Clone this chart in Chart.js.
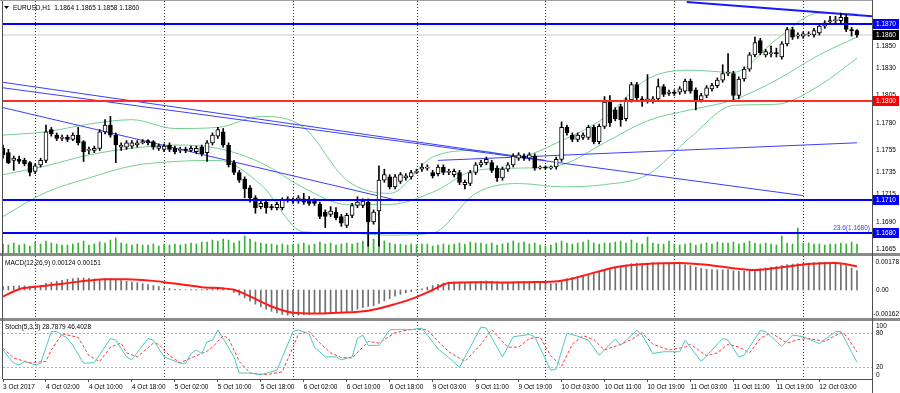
<!DOCTYPE html>
<html>
<head>
<meta charset="utf-8">
<script src="https://cdn.jsdelivr.net/npm/chart.js@4.4.1/dist/chart.umd.min.js"></script>
<style>
html, body { margin: 0; padding: 0; background: #fff; }
#wrap { position: relative; width: 900px; height: 393px; }
</style>
</head>
<body>
<div id="wrap"><canvas id="chart" width="900" height="393"></canvas></div>
<script>
// EURUSD H1 candles, 3 Oct 18:00 .. 12 Oct 09:00 (160 bars)
const opens = [
  1.1757,1.1753,1.1746,1.1747,1.1746,1.1744,1.1736,1.1742,1.1746,1.1774,
  1.1769,1.1766,1.1767,1.1765,1.1769,1.1763,1.1755,1.1755,1.1757,1.1772,
  1.1778,1.1769,1.1758,1.1758,1.1759,1.1760,1.1762,1.1764,1.1763,1.1757,
  1.1756,1.1760,1.1757,1.1755,1.1756,1.1755,1.1754,1.1758,1.1753,1.1762,
  1.1768,1.1772,1.1760,1.1744,1.1735,1.1729,1.1721,1.1712,1.1704,1.1708,
  1.1704,1.1703,1.1703,1.1710,1.1710,1.1709,1.1711,1.1710,1.1709,1.1706,
  1.1699,1.1697,1.1699,1.1695,1.1687,1.1696,1.1705,1.1705,1.1708,1.1690,
  1.1700,1.1728,1.1731,1.1722,1.1727,1.1730,1.1731,1.1735,1.1738,1.1739,
  1.1735,1.1734,1.1740,1.1735,1.1733,1.1735,1.1724,1.1725,1.1735,1.1742,
  1.1744,1.1744,1.1739,1.1730,1.1738,1.1742,1.1748,1.1750,1.1748,1.1750,
  1.1739,1.1740,1.1739,1.1740,1.1747,1.1776,1.1769,1.1765,1.1767,1.1767,
  1.1776,1.1763,1.1777,1.1800,1.1792,1.1795,1.1784,1.1801,1.1815,1.1802,
  1.1800,1.1800,1.1802,1.1813,1.1807,1.1808,1.1808,1.1809,1.1818,1.1810,
  1.1801,1.1805,1.1811,1.1814,1.1819,1.1825,1.1825,1.1805,1.1820,1.1829,
  1.1842,1.1855,1.1842,1.1843,1.1844,1.1840,1.1852,1.1865,1.1859,1.1859,
  1.1860,1.1860,1.1862,1.1868,1.1872,1.1873,1.1873,1.1876,1.1865,1.1864
];
const highs = [
  1.1760,1.1756,1.1750,1.1750,1.1748,1.1745,1.1743,1.1748,1.1778,1.1776,
  1.1771,1.1769,1.1769,1.1771,1.1776,1.1764,1.1758,1.1759,1.1774,1.1783,
  1.1786,1.1771,1.1762,1.1764,1.1764,1.1764,1.1765,1.1765,1.1764,1.1761,
  1.1761,1.1762,1.1759,1.1758,1.1758,1.1759,1.1759,1.1760,1.1764,1.1771,
  1.1776,1.1775,1.1762,1.1746,1.1737,1.1731,1.1723,1.1714,1.1709,1.1710,
  1.1706,1.1708,1.1712,1.1713,1.1712,1.1714,1.1716,1.1713,1.1711,1.1708,
  1.1701,1.1704,1.1703,1.1697,1.1698,1.1707,1.1713,1.1711,1.1711,1.1701,
  1.1741,1.1738,1.1733,1.1733,1.1735,1.1734,1.1737,1.1738,1.1743,1.1742,
  1.1737,1.1742,1.1742,1.1738,1.1738,1.1737,1.1728,1.1737,1.1744,1.1746,
  1.1749,1.1746,1.1741,1.1740,1.1744,1.1752,1.1753,1.1752,1.1753,1.1752,
  1.1741,1.1741,1.1741,1.1749,1.1781,1.1778,1.1771,1.1771,1.1771,1.1778,
  1.1778,1.1779,1.1804,1.1805,1.1794,1.1797,1.1803,1.1817,1.1817,1.1804,
  1.1824,1.1804,1.1820,1.1815,1.1810,1.1810,1.1813,1.1820,1.1820,1.1812,
  1.1807,1.1814,1.1816,1.1821,1.1833,1.1843,1.1827,1.1822,1.1831,1.1844,
  1.1858,1.1857,1.1847,1.1850,1.1848,1.1854,1.1867,1.1867,1.1862,1.1863,
  1.1863,1.1866,1.1870,1.1873,1.1877,1.1877,1.1880,1.1879,1.1867,1.1865
];
const lows = [
  1.1748,1.1743,1.1737,1.1743,1.1741,1.1732,1.1734,1.1740,1.1744,1.1768,
  1.1764,1.1764,1.1763,1.1764,1.1760,1.1745,1.1752,1.1753,1.1755,1.1770,
  1.1767,1.1744,1.1755,1.1756,1.1757,1.1758,1.1761,1.1760,1.1756,1.1755,
  1.1754,1.1754,1.1752,1.1753,1.1753,1.1754,1.1752,1.1750,1.1745,1.1760,
  1.1766,1.1758,1.1740,1.1733,1.1726,1.1712,1.1708,1.1698,1.1702,1.1698,
  1.1701,1.1701,1.1701,1.1708,1.1707,1.1707,1.1706,1.1705,1.1705,1.1693,
  1.1685,1.1695,1.1692,1.1686,1.1685,1.1694,1.1703,1.1703,1.1668,1.1688,
  1.1668,1.1726,1.1720,1.1720,1.1725,1.1728,1.1729,1.1734,1.1736,1.1737,
  1.1730,1.1732,1.1733,1.1733,1.1731,1.1724,1.1720,1.1723,1.1733,1.1740,
  1.1742,1.1735,1.1727,1.1728,1.1736,1.1740,1.1746,1.1746,1.1746,1.1737,
  1.1738,1.1738,1.1738,1.1738,1.1745,1.1769,1.1763,1.1763,1.1765,1.1765,
  1.1761,1.1761,1.1775,1.1777,1.1782,1.1777,1.1782,1.1799,1.1801,1.1795,
  1.1798,1.1798,1.1800,1.1804,1.1805,1.1805,1.1806,1.1807,1.1807,1.1792,
  1.1799,1.1803,1.1809,1.1812,1.1817,1.1823,1.1800,1.1802,1.1818,1.1827,
  1.1840,1.1842,1.1840,1.1840,1.1840,1.1838,1.1850,1.1856,1.1857,1.1857,
  1.1859,1.1858,1.1860,1.1866,1.1870,1.1871,1.1871,1.1863,1.1859,1.1858
];
const closes = [
  1.1751,1.1744,1.1748,1.1745,1.1743,1.1735,1.1741,1.1746,1.1772,1.1770,
  1.1766,1.1767,1.1765,1.1769,1.1762,1.1754,1.1756,1.1757,1.1772,1.1778,
  1.1769,1.1760,1.1760,1.1762,1.1762,1.1762,1.1763,1.1762,1.1758,1.1759,
  1.1759,1.1756,1.1754,1.1756,1.1755,1.1757,1.1757,1.1752,1.1762,1.1769,
  1.1774,1.1760,1.1742,1.1735,1.1728,1.1720,1.1712,1.1703,1.1707,1.1703,
  1.1703,1.1706,1.1710,1.1711,1.1709,1.1712,1.1708,1.1707,1.1707,1.1695,
  1.1695,1.1700,1.1694,1.1689,1.1696,1.1705,1.1708,1.1709,1.1690,1.1699,
  1.1728,1.1733,1.1722,1.1731,1.1733,1.1732,1.1735,1.1736,1.1740,1.1740,
  1.1732,1.1740,1.1735,1.1736,1.1736,1.1726,1.1726,1.1735,1.1742,1.1744,
  1.1747,1.1737,1.1730,1.1738,1.1742,1.1750,1.1751,1.1748,1.1751,1.1739,
  1.1740,1.1739,1.1740,1.1747,1.1776,1.1771,1.1765,1.1769,1.1769,1.1776,
  1.1763,1.1777,1.1799,1.1780,1.1784,1.1783,1.1801,1.1815,1.1803,1.1800,
  1.1802,1.1802,1.1813,1.1806,1.1808,1.1807,1.1811,1.1818,1.1809,1.1800,
  1.1805,1.1812,1.1814,1.1819,1.1825,1.1826,1.1805,1.1820,1.1829,1.1842,
  1.1853,1.1844,1.1845,1.1844,1.1843,1.1852,1.1865,1.1858,1.1860,1.1861,
  1.1861,1.1864,1.1868,1.1871,1.1873,1.1874,1.1876,1.1865,1.1864,1.1860
];
// tick volume
const volumes = [
  900,800,1000,800,900,700,1100,900,1200,1000,
  900,800,800,900,1000,1200,800,900,1100,1000,
  1300,1500,1000,900,800,900,800,800,900,700,
  900,800,900,800,900,1000,900,1100,1100,1300,
  1200,1400,1300,1000,1200,1700,1400,1100,1000,900,
  900,800,900,800,900,900,1000,800,900,1100,
  900,1000,800,900,1000,900,1000,1200,2200,1400,
  2400,1200,1000,900,900,800,900,800,900,900,
  700,800,900,800,900,1000,900,1100,1000,1000,
  900,1000,800,900,1000,1200,1000,1100,900,1000,
  800,700,800,1000,1200,1000,900,1000,1100,1300,
  1000,900,1000,1000,1100,1200,1000,1300,1000,900,
  1600,1000,900,900,1200,900,800,900,1000,800,
  900,1000,900,1100,1000,1000,1100,900,1000,1200,
  1000,900,1000,900,800,1700,1000,900,2500,1000,
  1000,900,900,800,900,900,1000,900,1100,900
];

// Bollinger Bands, sampled every 8 bars
const bandBars   = [0,8,16,24,32,40,48,56,64,72,80,88,96,104,112,120,128,136,144,152,159];
const bandUpper  = [1.1769,1.1772,1.1779,1.1783,1.1775,1.1776,1.1786,1.1776,1.1728,1.1716,1.1749,1.1755,1.1750,1.1764,1.1785,1.1820,1.1828,1.1826,1.1856,1.1880,1.1879];
const bandMiddle = [1.1733,1.1741,1.1751,1.1757,1.1760,1.1757,1.1744,1.1721,1.1706,1.1706,1.1717,1.1737,1.1739,1.1742,1.1762,1.1782,1.1792,1.1801,1.1819,1.1842,1.1858];
const bandLower  = [1.1695,1.1717,1.1730,1.1741,1.1745,1.1746,1.1724,1.1681,1.1680,1.1678,1.1680,1.1716,1.1725,1.1722,1.1724,1.1733,1.1767,1.1796,1.1797,1.1814,1.1839];

// trend lines: [bar, price] end points
const trendLines = [
  [[0, 1.1817], [101, 1.1746]],
  [[0, 1.1812], [149, 1.1714]],
  [[0, 1.1794], [74, 1.1709]],
  [[81, 1.1746], [159, 1.1762]],
  [[127.3, 1.1890], [161.8, 1.1877]]
];
const levelPrices = [1.1870, 1.1800, 1.1710, 1.1680];
const levelColors = ['#0000ff', '#ff2b2b', '#0000ff', '#0000ff'];
const priceTicks = [1.1850, 1.1830, 1.1805, 1.1780, 1.1755, 1.1735, 1.1715, 1.1690, 1.1665];

// MACD(12,26,9)
const macdHist = [
  0.00022,0.00024,0.00025,0.00026,0.00026,0.00024,0.00022,
  0.00030,0.00042,0.00050,0.00056,0.00062,0.00068,0.00072,0.00076,
  0.00076,0.00074,0.00070,0.00068,0.00072,0.00074,
  0.00066,0.00060,0.00055,0.00050,0.00046,0.00040,0.00034,0.00028,0.00022,
  0.00014,0.00009,0.00005,0.00003,0.00001,0.00002,0.00003,0.00002,0.00004,0.00010,0.00016,0.00014,0.00005,
  -0.00015,-0.00032,-0.00050,-0.00070,-0.00090,-0.00108,-0.00122,-0.00135,-0.00146,-0.00155,-0.00160,
  -0.00162,-0.00160,-0.00158,-0.00155,-0.00150,-0.00150,-0.00152,
  -0.00150,-0.00148,-0.00145,-0.00140,-0.00132,-0.00122,-0.00112,-0.00105,-0.00100,
  -0.00085,-0.00070,-0.00055,-0.00040,-0.00028,-0.00018,-0.00010,
  -0.00002,0.00008,0.00018,0.00028,0.00036,0.00044,0.00050,
  0.00052,0.00050,0.00046,0.00048,0.00052,0.00055,0.00058,0.00056,0.00050,0.00048,
  0.00048,0.00050,0.00052,0.00054,0.00055,0.00050,0.00045,0.00042,0.00040,0.00042,
  0.00060,0.00072,0.00080,0.00086,0.00092,0.00100,0.00104,0.00112,0.00125,0.00135,
  0.00142,0.00150,0.00160,0.00168,0.00170,0.00170,0.00170,
  0.00172,0.00174,0.00172,0.00170,0.00168,
  0.00165,0.00160,0.00155,0.00145,0.00138,0.00132,0.00130,0.00128,0.00128,0.00130,0.00122,0.00120,
  0.00120,0.00122,0.00128,0.00135,0.00140,0.00145,
  0.00150,0.00156,0.00162,0.00165,0.00168,0.00170,0.00172,0.00174,0.00176,0.00176,0.00175,0.00172,
  0.00165,0.00155,0.00140,0.00124
];
const macdSignalBars = [0,3,6,11,16,19,23,28,31,34,37,41,43,46,50,54,58,62,68,73,77,80,83,88,93,98,102,105,108,114,121,126,131,136,140,145,150,155,159];
const macdSignal = [-0.00042,0.00005,0.00020,0.00040,0.00060,0.00068,0.00068,0.00058,0.00045,0.00032,0.00018,0.00010,0.00002,-0.00040,-0.00105,-0.00145,-0.00150,-0.00145,-0.00132,-0.00090,-0.00045,0.00000,0.00045,0.00050,0.00048,0.00050,0.00052,0.00065,0.00090,0.00145,0.00168,0.00172,0.00160,0.00138,0.00127,0.00145,0.00165,0.00172,0.00151];
const macdTicks = [0.00178, 0, -0.00162];

// Stochastic(5,3,3)
const stochMainBars = [0,2,3,4,6,7,9,10,12,13,15,17,20,21,23,24,27,28,30,33,34,35,36,37,38,39,40,41,43,44,46,48,51,54,55,57,58,60,62,63,65,66,67,68,70,72,74,76,78,81,83,85,89,90,93,95,98,99,102,103,105,107,109,111,114,115,118,119,121,123,126,127,130,132,134,135,137,138,141,142,145,147,149,152,155,156,159];
const stochMain = [50,27,24,30,24,27,82,82,70,58,27,28,70,67,38,33,70,67,38,27,27,44,50,44,64,67,85,70,38,10,10,7,15,82,85,78,55,38,38,33,38,70,76,58,58,85,86,85,88,52,37,20,90,88,38,73,77,73,15,17,79,74,67,41,69,58,84,76,44,47,47,67,30,50,70,67,38,41,84,82,56,76,73,61,82,82,28.7879];
const stochSignalBars = [0,2,5,8,9,11,14,16,18,20,22,23,25,28,29,31,33,36,38,39,41,42,44,46,49,52,54,55,57,59,61,63,65,67,68,70,73,76,79,81,83,86,89,91,94,96,98,100,102,104,106,108,110,112,115,117,119,121,124,127,128,131,133,135,137,139,141,143,146,148,150,153,156,157,159];
const stochSignal = [53,36,28,30,50,78,72,40,30,55,62,45,38,62,60,40,28,40,48,55,75,70,30,10,7,12,55,78,82,62,45,37,36,55,65,62,80,86,85,65,47,30,60,85,55,55,70,72,40,22,60,75,68,50,60,68,80,60,50,55,60,40,45,60,55,45,70,80,62,68,70,65,80,75,46.4028];
const stochTicks = [100, 80, 20, 0];
const stochLevels = [80, 20];

// time axis
const timeLabelBars = [0,8,16,24,32,40,48,56,64,72,80,88,96,104,112,120,128,136,144,152];
const timeLabels = ['3 Oct 2017','4 Oct 02:00','4 Oct 10:00','4 Oct 18:00','5 Oct 02:00','5 Oct 10:00','5 Oct 18:00','6 Oct 02:00','6 Oct 10:00','6 Oct 18:00','9 Oct 03:00','9 Oct 11:00','9 Oct 19:00','10 Oct 03:00','10 Oct 11:00','10 Oct 19:00','11 Oct 03:00','11 Oct 11:00','11 Oct 19:00','12 Oct 03:00'];
const dayStartBars = [6, 30, 54, 77, 101, 125, 149];

// ---- layout (pixels) ----
const FONT = '"Liberation Sans", Arial, sans-serif';
const PLOT_T = 1, PLOT_B = 379, PLOT_L = 3, PLOT_R = 872;
const MAIN_B = 253, MACD_T = 256, MACD_B = 318, STO_T = 321;
const BAR_MAX = 161.8;

// map an anchor value at a pixel row + pixels per unit into a full-height axis range
function axisRange(val, py, pxPerUnit) {
  return { min: val - (PLOT_B - py) / pxPerUnit, max: val + (py - PLOT_T) / pxPerUnit };
}
const priceRange = axisRange(1.1870, 24, 11000);
const volRange = axisRange(0, MAIN_B, 0.01);
const macdRange = axisRange(0, 290, 15730);
const stochRange = axisRange(0, 378.8, 0.576);

const n = closes.length;
const idx = closes.map((_, i) => i);
const pts = (xs, ys) => xs.map((x, i) => ({ x: x, y: ys[i] }));

function lineDs(data, axis, color, width, order, extra) {
  return Object.assign({ type: 'line', data: data, yAxisID: axis, borderColor: color, borderWidth: width,
    pointRadius: 0, fill: false, tension: 0, order: order }, extra || {});
}

const datasets = [];
// volume
datasets.push({ type: 'bar', yAxisID: 'yVol', data: idx.map(i => ({ x: i, y: [0, volumes[i]] })),
  backgroundColor: '#34b334', barThickness: 1, grouped: false, order: 20 });
// macd histogram
datasets.push({ type: 'bar', yAxisID: 'yMacd', data: idx.map(i => ({ x: i, y: [0, macdHist[i]] })),
  backgroundColor: '#707070', barThickness: 1, grouped: false, order: 19 });
// bid line
datasets.push(lineDs([{ x: 0, y: closes[n - 1] }, { x: BAR_MAX, y: closes[n - 1] }], 'yPrice', '#c8c8c8', 1, 18));
// bollinger
[bandUpper, bandMiddle, bandLower].forEach(b => {
  datasets.push(lineDs(pts(bandBars, b), 'yPrice', '#74cf93', 1, 17, { tension: 0.4, cubicInterpolationMode: 'monotone' }));
});
// trend lines
trendLines.forEach((t, k) => {
  datasets.push(lineDs(t.map(p => ({ x: p[0], y: p[1] })), 'yPrice', k === 4 ? '#1a1aff' : '#3c3cff', k === 4 ? 2 : 1, 16));
});
// candle wicks & bodies
datasets.push({ type: 'bar', yAxisID: 'yPrice', data: idx.map(i => ({ x: i, y: [lows[i], highs[i]] })),
  backgroundColor: '#000', barThickness: 1, grouped: false, order: 5 });
datasets.push({ type: 'bar', yAxisID: 'yPrice', data: idx.map(i => ({ x: i, y: [opens[i], closes[i]] })),
  backgroundColor: idx.map(i => closes[i] >= opens[i] ? '#ffffff' : '#000000'),
  borderColor: '#000', borderWidth: 1, borderSkipped: false, barThickness: 4, minBarLength: 1,
  grouped: false, order: 4 });
// levels
levelPrices.forEach((p, k) => {
  datasets.push(lineDs([{ x: 0, y: p }, { x: BAR_MAX, y: p }], 'yPrice', levelColors[k], 2, 3));
});
// macd signal
datasets.push(lineDs(pts(macdSignalBars, macdSignal), 'yMacd', '#ff1a1a', 2, 2, { tension: 0.4, cubicInterpolationMode: 'monotone' }));
// stochastic
datasets.push(lineDs(pts(stochSignalBars, stochSignal), 'yStoch', '#ff3a3a', 1, 2, { borderDash: [3, 2] }));
datasets.push(lineDs(pts(stochMainBars, stochMain), 'yStoch', '#4cc9c0', 1, 1));

function txt(ctx, s, x, y, color, align) {
  ctx.fillStyle = color; ctx.textAlign = align || 'left'; ctx.textBaseline = 'middle';
  ctx.fillText(s, x, y);
}
// right-axis text, pulled left if it would run past the canvas edge
function axisTxt(ctx, s, x, y, color) {
  const w = ctx.measureText(s).width;
  txt(ctx, s, Math.min(x, 899 - w), y, color);
}

const decor = {
  id: 'decor',
  beforeDatasetsDraw(chart) {
    const { ctx, chartArea: a, scales } = chart;
    ctx.save();
    ctx.strokeStyle = '#303030'; ctx.lineWidth = 1; ctx.setLineDash([1, 2]);
    dayStartBars.forEach(b => {
      const x = Math.round(scales.x.getPixelForValue(b)) + 0.5;
      ctx.beginPath(); ctx.moveTo(x, a.top); ctx.lineTo(x, a.bottom); ctx.stroke();
    });
    ctx.strokeStyle = '#b0b0b0'; ctx.setLineDash([2, 2]);
    stochLevels.forEach(v => {
      const y = Math.round(scales.yStoch.getPixelForValue(v)) + 0.5;
      ctx.beginPath(); ctx.moveTo(a.left, y); ctx.lineTo(a.right, y); ctx.stroke();
    });
    ctx.restore();
  },
  afterDatasetsDraw(chart) {
    const { ctx, chartArea: a, scales } = chart;
    ctx.save();
    // pane separators
    ctx.fillStyle = '#8a8a8a';
    ctx.fillRect(0, MAIN_B, 900, MACD_T - MAIN_B);
    ctx.fillRect(0, MACD_B, 900, STO_T - MACD_B);
    // frame
    ctx.strokeStyle = '#505050'; ctx.lineWidth = 1;
    ctx.beginPath();
    ctx.moveTo(a.left - 0.5, 0); ctx.lineTo(a.left - 0.5, a.bottom);
    ctx.moveTo(a.right + 0.5, 0); ctx.lineTo(a.right + 0.5, 393);
    ctx.stroke();
    ctx.strokeStyle = '#a0a0a0';
    ctx.beginPath(); ctx.moveTo(0, 0.5); ctx.lineTo(a.right, 0.5); ctx.stroke();

    ctx.font = '6.5px ' + FONT;
    const xr = a.right + 4;
    // price axis
    priceTicks.forEach(v => axisTxt(ctx, v.toFixed(4), xr, scales.yPrice.getPixelForValue(v), '#000'));
    const boxes = levelPrices.map((p, k) => [p, levelColors[k] === '#0000ff' ? '#0000ff' : '#ff0000']);
    boxes.push([closes[n - 1], '#000000']);
    boxes.forEach(b => {
      const y = scales.yPrice.getPixelForValue(b[0]);
      ctx.fillStyle = b[1]; ctx.fillRect(a.right + 1, Math.round(y) - 5, 26, 10);
      txt(ctx, b[0].toFixed(4), xr, y, '#fff');
    });
    txt(ctx, '23.6(' + levelPrices[3].toFixed(4) + ')', a.right - 2, scales.yPrice.getPixelForValue(levelPrices[3]) - 5, '#3c3cff', 'right');
    // macd / stochastic axes
    const clampY = (y, t, b) => Math.min(Math.max(y, t + 5), b - 4);
    macdTicks.forEach(v => axisTxt(ctx, v === 0 ? '0.00' : v.toFixed(5), xr,
      clampY(scales.yMacd.getPixelForValue(v), MACD_T, MACD_B), '#000'));
    stochTicks.forEach(v => axisTxt(ctx, String(v), xr,
      clampY(scales.yStoch.getPixelForValue(v), STO_T, a.bottom), '#000'));
    // pane titles
    ctx.fillStyle = '#000';
    ctx.beginPath(); ctx.moveTo(4, 6); ctx.lineTo(9, 6); ctx.lineTo(6.5, 9); ctx.closePath(); ctx.fill();
    txt(ctx, 'EURUSD,H1  ' + [opens[n - 1], highs[n - 1], lows[n - 1], closes[n - 1]].map(v => v.toFixed(4)).join(' '), 13, 8, '#000');
    txt(ctx, 'MACD(12,26,9) ' + macdHist[n - 1].toFixed(5) + ' ' + macdSignal[macdSignal.length - 1].toFixed(5), 5, MACD_T + 7, '#000');
    txt(ctx, 'Stoch(5,3,3) ' + stochMain[stochMain.length - 1].toFixed(4) + ' ' + stochSignal[stochSignal.length - 1].toFixed(4), 5, STO_T + 6, '#000');
    ctx.restore();
  }
};

new Chart(document.getElementById('chart'), {
  type: 'bar',
  data: { datasets: datasets },
  options: {
    responsive: false,
    animation: false,
    events: [],
    layout: { padding: { left: PLOT_L, right: 900 - PLOT_R, top: PLOT_T, bottom: 0 } },
    plugins: { legend: { display: false }, tooltip: { enabled: false } },
    scales: {
      x: {
        type: 'linear', min: 0, max: BAR_MAX, offset: false,
        afterBuildTicks: s => { s.ticks = timeLabelBars.map(v => ({ value: v })); },
        afterFit: s => { s.height = 393 - PLOT_B; },
        ticks: { autoSkip: false, maxRotation: 0, minRotation: 0, align: 'start', padding: 1,
          color: '#000', font: { size: 6.5, family: FONT },
          callback: (v, i) => timeLabels[i] },
        grid: { drawOnChartArea: false, offset: false, tickLength: 3, color: '#505050' },
        border: { color: '#505050' }
      },
      yPrice: { type: 'linear', display: false, min: priceRange.min, max: priceRange.max },
      yVol: { type: 'linear', display: false, min: volRange.min, max: volRange.max },
      yMacd: { type: 'linear', display: false, min: macdRange.min, max: macdRange.max },
      yStoch: { type: 'linear', display: false, min: stochRange.min, max: stochRange.max }
    }
  },
  plugins: [decor]
});
</script>
</body>
</html>
